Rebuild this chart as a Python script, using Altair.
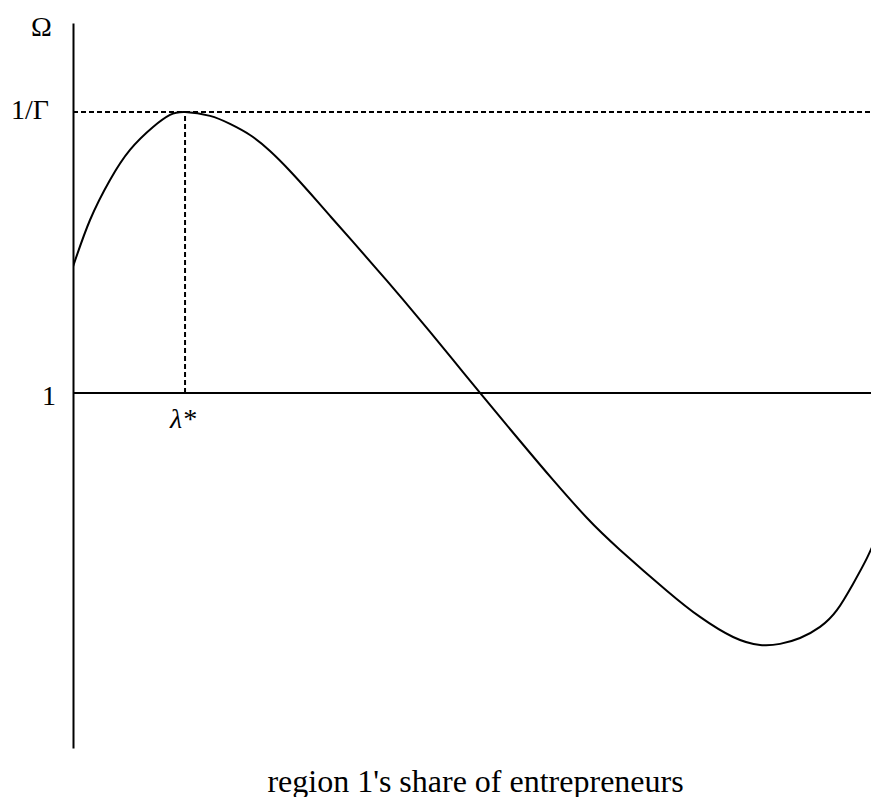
import altair as alt
import pandas as pd

# Curve Omega(lambda) (x: share of entrepreneurs in [0,1])
lam = [0.0, 0.0211, 0.0459, 0.0707, 0.0993, 0.1203, 0.1390, 0.1700, 0.1948,
       0.2196, 0.2444, 0.2692, 0.2940, 0.3189, 0.3474, 0.3896, 0.4305, 0.4715,
       0.5050, 0.5546, 0.5955, 0.6377, 0.6787, 0.7370, 0.7779, 0.8189,
       0.8524, 0.8772, 0.9020, 0.9268, 0.9479, 0.9677, 0.9851, 1.0]
omega = [1.0899, 1.1231, 1.1516, 1.1730, 1.1893, 1.1979, 1.2000, 1.1972, 1.1915,
         1.1836, 1.1722, 1.1580, 1.1423, 1.1260, 1.1075, 1.0797, 1.0520, 1.0235,
         1.0000, 0.9658, 0.9381, 0.9110, 0.8883, 0.8591, 0.8406, 0.8263,
         0.8206, 0.8214, 0.8256, 0.8335, 0.8456, 0.8641, 0.8826, 0.9018]

one = 1.0
inv_gamma = 1.2
lam_star = 0.139
y_min, y_max = 0.7473, 1.2633
x_max_visible = 0.990   # the page is slightly narrower than the original figure

FONT = "Liberation Serif"

curve_df = pd.DataFrame({"x": lam, "y": omega})

xs = alt.Scale(domain=[0, x_max_visible], nice=False, zero=False)
ys = alt.Scale(domain=[y_min, y_max], nice=False, zero=False)

x_axis = alt.Axis(domain=False, ticks=False, labels=False, grid=False,
                  title="region 1's share of entrepreneurs",
                  titleFont=FONT, titleFontSize=32, titleFontWeight="normal",
                  titleColor="black", titleBaseline="alphabetic",
                  titleAlign="center", titleX=402, titleY=43)
y_axis = alt.Axis(domain=True, domainColor="black", domainWidth=2,
                  ticks=False, labels=False, grid=False,
                  title="Ω", titleFont=FONT, titleFontSize=28,
                  titleFontWeight="normal", titleColor="black",
                  titleAngle=0, titleAlign="center", titleBaseline="alphabetic",
                  titleX=-32, titleY=12)

curve = alt.Chart(curve_df).mark_line(
    color="black", strokeWidth=2, interpolate="natural", clip=True
).encode(
    x=alt.X("x:Q", scale=xs, axis=x_axis),
    y=alt.Y("y:Q", scale=ys, axis=y_axis),
)

hline = alt.Chart(pd.DataFrame({"y": [one]})).mark_rule(
    color="black", strokeWidth=2
).encode(y=alt.Y("y:Q", scale=ys))

dash_h = alt.Chart(pd.DataFrame({"x": [0.0], "x2": [x_max_visible], "y": [inv_gamma]})).mark_rule(
    color="black", strokeWidth=2, strokeDash=[5, 3]
).encode(x=alt.X("x:Q", scale=xs), x2="x2:Q", y=alt.Y("y:Q", scale=ys))

dash_v = alt.Chart(pd.DataFrame({"x": [lam_star], "y": [one], "y2": [inv_gamma]})).mark_rule(
    color="black", strokeWidth=2, strokeDash=[5, 3]
).encode(x=alt.X("x:Q", scale=xs), y=alt.Y("y:Q", scale=ys), y2="y2:Q")

lbl_gamma = alt.Chart(pd.DataFrame({"x": [0.0], "y": [inv_gamma], "t": ["1/Γ"]})).mark_text(
    font=FONT, fontSize=28, color="black", align="right", baseline="alphabetic",
    dx=-24, dy=7
).encode(x=alt.X("x:Q", scale=xs), y=alt.Y("y:Q", scale=ys), text="t:N")

lbl_one = alt.Chart(pd.DataFrame({"x": [0.0], "y": [one], "t": ["1"]})).mark_text(
    font=FONT, fontSize=28, color="black", align="right", baseline="alphabetic",
    dx=-17, dy=12
).encode(x=alt.X("x:Q", scale=xs), y=alt.Y("y:Q", scale=ys), text="t:N")

lbl_lam = alt.Chart(pd.DataFrame({"x": [lam_star], "y": [one], "t": ["λ*"]})).mark_text(
    font=FONT, fontSize=28, color="black", align="center", baseline="alphabetic",
    fontStyle="italic", dx=-2, dy=35
).encode(x=alt.X("x:Q", scale=xs), y=alt.Y("y:Q", scale=ys), text="t:N")

chart = alt.layer(dash_h, dash_v, hline, curve, lbl_gamma, lbl_one, lbl_lam).properties(
    width=798, height=725,
    autosize=alt.AutoSizeParams(type="none"),
    padding={"left": 65, "top": 15, "right": 0, "bottom": 49},
    background="white",
).configure_view(stroke=None)

chart.save("out.html", embed_options={"renderer": "svg", "actions": False})
